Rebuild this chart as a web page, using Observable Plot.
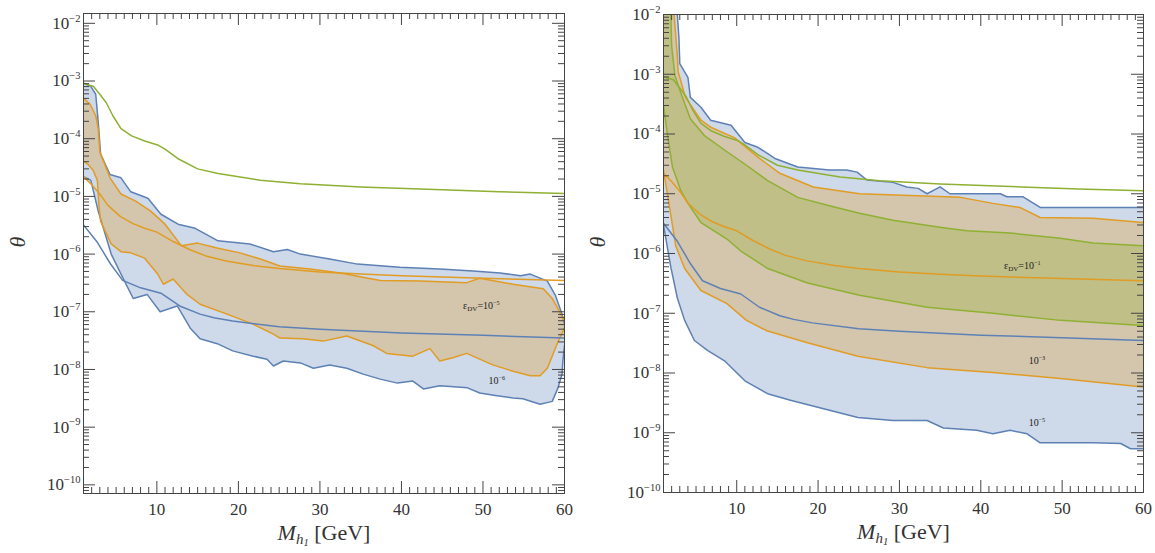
<!DOCTYPE html>
<html><head><meta charset="utf-8">
<script src="https://cdn.jsdelivr.net/npm/d3@7"></script>
<script src="https://cdn.jsdelivr.net/npm/@observablehq/plot@0.6"></script>
<style>
html,body{margin:0;padding:0;background:#fff;}
#wrap{display:flex;width:1155px;height:553px;overflow:hidden;}
#wrap svg{display:block;flex:none;}
</style></head><body><div id="wrap"></div>
<script>
// ---------- axis ticks ----------
const xTickValues = [10, 20, 30, 40, 50, 60];
const yTickExponents = [-10, -9, -8, -7, -6, -5, -4, -3, -2];

// ---------- shared reference lines [M_h1 (GeV), theta] ----------
const greenLine = [[1.0,9.1e-4],[2.2,8.1e-4],[3.0,5.9e-4],[3.8,4.2e-4],[4.6,2.5e-4],[5.6,1.5e-4],[6.9,1.12e-4],[8.5,9.1e-5],[10.1,7.8e-5],[11,6.6e-5],[12.6,4.5e-5],[15,3.0e-5],[17.5,2.5e-5],[22.7,1.9e-5],[27.6,1.65e-5],[35,1.45e-5],[45,1.3e-5],[52,1.2e-5],[60,1.12e-5]];
const orangeLine = [[1,2.2e-5],[2,1.6e-5],[3,1.1e-5],[4,7e-6],[5.5,4.5e-6],[7,3.4e-6],[8.5,2.8e-6],[10,2.4e-6],[12,1.65e-6],[14,1.2e-6],[16,9.3e-7],[18.5,7.6e-7],[22,6.3e-7],[25,5.6e-7],[30,4.9e-7],[35,4.5e-7],[40,4.2e-7],[50,3.8e-7],[60,3.5e-7]];
const blueLine = [[1,3.2e-6],[2.7,1.6e-6],[4.3,6.8e-7],[5.8,3.5e-7],[8,2.6e-7],[10.5,2.1e-7],[12.8,1.26e-7],[15.3,9.1e-8],[17,7.9e-8],[19.3,6.9e-8],[25,5.5e-8],[30,5e-8],[40,4.3e-8],[50,3.9e-8],[60,3.5e-8]];

// ---------- left panel regions ----------
const leftBlueUpper = [[1.0,9.2e-4],[1.9,8.1e-4],[2.5,5.9e-4],[2.8,2.0e-4],[3.1,5.4e-5],[4.25,2.4e-5],[5.6,2.1e-5],[6.8,1.2e-5],[8.9,9.3e-6],[10.5,4.9e-6],[12.6,3.3e-6],[14.7,2.8e-6],[17.5,1.7e-6],[21.4,1.5e-6],[24.3,1.1e-6],[26.0,1.2e-6],[27.6,1.0e-6],[31.2,8.2e-7],[34.6,6.7e-7],[39.8,5.9e-7],[44.7,5.5e-7],[48.8,5.1e-7],[52.1,4.7e-7],[54.6,4.2e-7],[55.8,4.5e-7],[57.9,3.4e-7],[58.9,1.9e-7],[59.7,9.1e-8],[60,6.1e-8]];
const leftBlueLower = [[1.0,2.2e-5],[1.9,1.9e-5],[2.8,5.6e-6],[4.4,1.0e-6],[5.6,4.5e-7],[7.1,1.7e-7],[8.8,2.0e-7],[10.4,1.0e-7],[12.5,1.26e-7],[14.1,5.2e-8],[15.3,3.4e-8],[17.4,2.8e-8],[19.3,2.1e-8],[21.8,1.7e-8],[23.5,1.5e-8],[24.3,1.15e-8],[25.5,1.4e-8],[27.6,1.3e-8],[29.2,1.05e-8],[31.2,1.2e-8],[33.3,1.05e-8],[35.3,8.3e-9],[37.4,6.8e-9],[39.5,5.8e-9],[41.4,6.3e-9],[42.7,4.6e-9],[44.7,5.2e-9],[48.1,4.8e-9],[49.6,3.9e-9],[51.7,3.5e-9],[53.7,3.2e-9],[54.9,3.1e-9],[57.0,2.5e-9],[58.5,2.8e-9],[59.2,4.8e-9],[59.7,8.3e-9],[59.8,1.4e-8],[60,2.6e-8]];
const leftOrangeUpper = [[1.0,5.0e-4],[1.8,4.0e-4],[2.5,2.5e-4],[2.8,1.5e-4],[3.0,6.0e-5],[4.25,2.1e-5],[5.6,1.1e-5],[7.4,8.3e-6],[9.2,5.6e-6],[11.0,3.3e-6],[13.0,1.4e-6],[15.0,1.55e-6],[17.5,1.26e-6],[20.2,1.05e-6],[22.7,8.2e-7],[25.1,6.2e-7],[28.8,5.5e-7],[32.5,4.7e-7],[37.4,3.5e-7],[42.3,3.4e-7],[48.0,3.2e-7],[49.6,3.8e-7],[53.7,3.0e-7],[57.4,2.5e-7],[58.5,1.7e-7],[59.5,9.5e-8],[60,6.9e-8]];
const leftOrangeLower = [[1.0,4.1e-5],[1.55,3.6e-5],[2.2,2.8e-5],[2.7,1.9e-5],[2.9,6.8e-6],[3.1,3.7e-6],[4.4,1.5e-6],[5.6,1.1e-6],[6.8,1.05e-6],[8.5,8.5e-7],[10.1,4.5e-7],[10.8,3.0e-7],[12.0,3.7e-7],[13.7,2.0e-7],[15.3,1.35e-7],[18.6,9.1e-8],[21.8,6.1e-8],[24.3,4.1e-8],[25.1,3.5e-8],[27.9,3.4e-8],[30.4,3.1e-8],[33.3,3.8e-8],[36.5,2.6e-8],[38.2,1.9e-8],[41.4,1.7e-8],[43.5,2.3e-8],[44.7,1.4e-8],[46.3,1.6e-8],[48.0,1.9e-8],[51.2,1.2e-8],[53.7,9.3e-9],[55.8,7.8e-9],[57.0,7.8e-9],[57.9,1.05e-8],[59.1,2.8e-8],[60,5.2e-8]];

// ---------- right panel regions ----------
const rightBlueUpper = [[2.7,1e-2],[2.9,4.0e-3],[3.0,1.5e-3],[4.0,8.9e-4],[4.3,4.1e-4],[5.6,2.8e-4],[6.8,1.7e-4],[9.3,1.4e-4],[11.0,7.2e-5],[12.6,6.0e-5],[14.7,3.9e-5],[17.5,2.8e-5],[21.4,2.5e-5],[23.5,2.5e-5],[24.8,2.3e-5],[26.0,1.7e-5],[29.2,1.55e-5],[30.9,1.3e-5],[32.3,1.23e-5],[33.4,1.0e-5],[35.0,1.3e-5],[36.2,1.0e-5],[42.4,1.0e-5],[43.2,8.9e-6],[45.2,8.9e-6],[47.3,5.9e-6],[60,5.9e-6]];
const rightBlueLower = [[1.0,3.0e-6],[1.9,5.9e-7],[2.7,1.8e-7],[3.6,7.6e-8],[4.8,3.5e-8],[6.4,2.4e-8],[8.5,1.6e-8],[11.0,7.4e-9],[13.8,4.5e-9],[16.6,3.5e-9],[20.8,2.5e-9],[24.9,1.8e-9],[29.2,1.6e-9],[33.4,1.6e-9],[35.4,1.2e-9],[39.5,1.1e-9],[41.5,9.6e-10],[43.6,1.1e-9],[45.7,9.6e-10],[47.3,6.8e-10],[53.8,6.8e-10],[57.2,6.6e-10],[58.4,5.4e-10],[60,5.4e-10]];
const rightOrangeUpper = [[2.3,1e-2],[2.5,4.5e-3],[2.7,2.0e-3],[2.8,1.1e-3],[3.7,4.1e-4],[5.6,1.7e-4],[6.8,1.3e-4],[9.7,8.7e-5],[12.6,4.1e-5],[15.3,2.2e-5],[19.4,1.3e-5],[25.1,1.0e-5],[37.5,8.7e-6],[41.5,6.9e-6],[44.8,5.9e-6],[47.3,4.0e-6],[53.8,3.9e-6],[60,3.3e-6]];
const rightOrangeLower = [[1.0,2.5e-5],[1.9,4.4e-6],[2.5,1.35e-6],[3.6,5.6e-7],[5.6,2.4e-7],[8.8,1.45e-7],[11.2,7.6e-8],[13.7,5.1e-8],[18.7,3.2e-8],[24.9,1.9e-8],[33.4,1.23e-8],[41.5,1.02e-8],[49.8,8.1e-9],[60,5.8e-9]];
const rightGreenUpper = [[1.9,1e-2],[2.0,3.0e-3],[2.4,9.5e-4],[3.1,5.0e-4],[4.3,1.8e-4],[6.0,9.5e-5],[8.5,5.4e-5],[11.2,3.0e-5],[13.8,1.66e-5],[17.5,8.7e-6],[21.4,6.3e-6],[25.1,4.7e-6],[29.2,3.6e-6],[35.4,2.7e-6],[38.3,2.4e-6],[43.6,2.2e-6],[49.8,1.8e-6],[53.8,1.5e-6],[60,1.35e-6]];
const rightGreenLower = [[1.0,3.0e-4],[1.5,9.5e-5],[2.1,2.8e-5],[3.1,1.15e-5],[4.0,6.9e-6],[5.6,3.3e-6],[8.9,1.7e-6],[10.5,1.1e-6],[13.8,5.6e-7],[18.7,3.2e-7],[25.1,2.0e-7],[33.4,1.26e-7],[41.5,1.0e-7],[49.8,7.6e-8],[60,6.2e-8]];

// ---------- in-plot labels ----------
const leftLabelTexts = ["ε_{DV}=10^{−5}", "10^{−6}"];
const leftLabelX = [49.8, 51.7];
const leftLabelY = [1.26e-7, 6.3e-9];
const rightLabelTexts = ["ε_{DV}=10^{−1}", "10^{−3}", "10^{−5}"];
const rightLabelX = [45.1, 46.9, 46.9];
const rightLabelY = [6.3e-7, 1.6e-8, 1.45e-9];

// ---------- styling ----------
const SERIF = "'Liberation Serif','Times New Roman',serif";
const BLUE = "#5E81B5", ORANGE = "#E19C24", GREEN = "#8FB032";
const FRAME = "#444";
const SVGNS = "http://www.w3.org/2000/svg";

function rich(t, s) {
  const parts = s.split(/(\^\{[^}]*\}|_\{[^}]*\})/).filter(p => p !== "");
  t.textContent = "";
  let off = 0;
  for (const p of parts) {
    const ts = document.createElementNS(SVGNS, "tspan");
    let target = 0, size = 1;
    if (p.startsWith("^{")) { target = -0.42; size = 0.62; ts.textContent = p.slice(2, -1); }
    else if (p.startsWith("_{")) { target = 0.22; size = 0.7; ts.textContent = p.slice(2, -1); }
    else { ts.textContent = p; }
    const d = target - off;
    if (d) ts.setAttribute("dy", (d / size).toFixed(3) + "em");
    if (size !== 1) ts.setAttribute("font-size", size + "em");
    off = target;
    t.appendChild(ts);
  }
}
function titleRich(t) {
  t.textContent = "";
  const add = (str, size, dy, italic) => {
    const ts = document.createElementNS(SVGNS, "tspan");
    ts.textContent = str;
    if (size !== 1) ts.setAttribute("font-size", size + "em");
    if (dy) ts.setAttribute("dy", dy.toFixed(3) + "em");
    if (italic) ts.setAttribute("font-style", "italic");
    t.appendChild(ts);
  };
  add("M", 1, 0, true);
  add("h", 0.68, 0.2 / 0.68, true);
  add("1", 0.48, 0.08 / 0.48, true);
  add("\u00a0[GeV]", 1, -0.28, false);
}

function makePanel(cfg) {
  const {width, mL, mR, mT, mB, yDomain, regions, labels} = cfg;
  const height = 553;
  const W = width - mL - mR, H = height - mT - mB;
  const [lo, hi] = yDomain;
  const xDomain = [1, 60];
  const yMajor = yTickExponents.map(e => 10 ** e);
  const yMinor = [];
  for (let e = -11; e <= -2; e++) for (let k = 2; k <= 9; k++) {
    const v = k * 10 ** e;
    if (v >= lo && v <= hi) yMinor.push(v);
  }
  const xMinor = d3.range(2, 60).filter(v => v % 10 !== 0);
  const X = d => d[0], Y = d => d[1];
  const marks = [];
  for (const r of regions) {
    const poly = (r.fromCorner ? [[xDomain[0], hi]] : []).concat(r.upper, r.lower.slice().reverse());
    marks.push(Plot.line(poly, {x: X, y: Y, fill: r.color, fillOpacity: 0.3, stroke: "none", clip: true}));
    marks.push(Plot.line(r.upper, {x: X, y: Y, stroke: r.color, strokeWidth: 1.5, clip: true}));
    marks.push(Plot.line(r.lower, {x: X, y: Y, stroke: r.color, strokeWidth: 1.5, clip: true}));
  }
  marks.push(Plot.line(greenLine, {x: X, y: Y, stroke: GREEN, strokeWidth: 1.5, clip: true}));
  marks.push(Plot.line(orangeLine, {x: X, y: Y, stroke: ORANGE, strokeWidth: 1.5, clip: true}));
  marks.push(Plot.line(blueLine, {x: X, y: Y, stroke: BLUE, strokeWidth: 1.5, clip: true}));
  marks.push(Plot.text(d3.range(labels.t.length), {
    x: i => labels.x[i], y: i => labels.y[i], text: i => labels.t[i],
    fontSize: 10, fontFamily: SERIF, fill: "#222"
  }));
  // inward ticks on all four sides
  const tk = {stroke: FRAME, strokeWidth: 1};
  marks.push(Plot.tickY(yMajor, {y: d => d, insetRight: W - 12, ...tk}));
  marks.push(Plot.tickY(yMinor, {y: d => d, insetRight: W - 6, ...tk}));
  marks.push(Plot.tickY(yMajor, {y: d => d, insetLeft: W - 12, ...tk}));
  marks.push(Plot.tickY(yMinor, {y: d => d, insetLeft: W - 6, ...tk}));
  marks.push(Plot.tickX(xTickValues, {x: d => d, insetTop: H - 12, ...tk}));
  marks.push(Plot.tickX(xMinor, {x: d => d, insetTop: H - 6, ...tk}));
  marks.push(Plot.tickX(xTickValues, {x: d => d, insetBottom: H - 12, ...tk}));
  marks.push(Plot.tickX(xMinor, {x: d => d, insetBottom: H - 6, ...tk}));
  marks.push(Plot.frame({stroke: FRAME, strokeWidth: 1}));
  marks.push(Plot.axisY({ticks: yMajor, tickFormat: d => "10^{" + String(Math.round(Math.log10(d))).replace("-", "−") + "}",
    tickSize: 0, tickPadding: 3, fontSize: 17, label: null}));
  marks.push(Plot.axisX({ticks: xTickValues, tickFormat: d => String(d), tickSize: 0, tickPadding: 9, fontSize: 17, label: null}));
  marks.push(Plot.text(["θ"], {frameAnchor: "left", dx: -66, dy: -6, rotate: -90, fontSize: 22, fontStyle: "italic", fill: "#333"}));
  marks.push(Plot.text(["@XTITLE"], {frameAnchor: "bottom", dy: 46, fontSize: 22, fill: "#333"}));

  const svg = Plot.plot({
    width, height, marginLeft: mL, marginRight: mR, marginTop: mT, marginBottom: mB,
    x: {domain: xDomain}, y: {type: "log", domain: yDomain},
    style: {fontFamily: SERIF, color: "#333", background: "#fff", overflow: "visible"},
    marks
  });
  svg.querySelectorAll("text").forEach(t => {
    const s = t.textContent;
    if (s === "@XTITLE") titleRich(t);
    else if (s.includes("^{") || s.includes("_{")) rich(t, s);
  });
  return svg;
}

const wrap = document.getElementById("wrap");
wrap.appendChild(makePanel({
  width: 578, mL: 83, mR: 14, mT: 13, mB: 60, yDomain: [7.08e-11, 1.48e-2],
  regions: [
    {upper: leftBlueUpper, lower: leftBlueLower, color: BLUE},
    {upper: leftOrangeUpper, lower: leftOrangeLower, color: ORANGE}
  ],
  labels: {t: leftLabelTexts, x: leftLabelX, y: leftLabelY}
}));
wrap.appendChild(makePanel({
  width: 577, mL: 85, mR: 12, mT: 14, mB: 61, yDomain: [1e-10, 1e-2],
  regions: [
    {upper: rightBlueUpper, lower: rightBlueLower, color: BLUE, fromCorner: true},
    {upper: rightOrangeUpper, lower: rightOrangeLower, color: ORANGE, fromCorner: true},
    {upper: rightGreenUpper, lower: rightGreenLower, color: GREEN, fromCorner: true}
  ],
  labels: {t: rightLabelTexts, x: rightLabelX, y: rightLabelY}
}));
</script>
</body></html>
